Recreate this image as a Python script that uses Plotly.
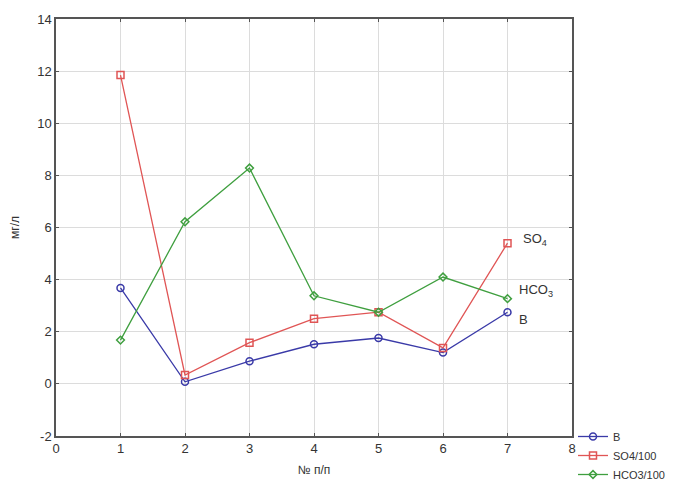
import plotly.graph_objects as go

x_vals = [1, 2, 3, 4, 5, 6, 7]
b_vals = [3.68, 0.08, 0.87, 1.52, 1.76, 1.2, 2.75]
so4_vals = [11.85, 0.34, 1.58, 2.5, 2.75, 1.38, 5.4]
hco3_vals = [1.68, 6.22, 8.28, 3.38, 2.75, 4.1, 3.27]
series_names = ["B", "SO4/100", "HCO3/100"]
end_labels = ["B", "SO<sub>4</sub>", "HCO<sub>3</sub>"]
y_tick_vals = [-2, 0, 2, 4, 6, 8, 10, 12, 14]
y_tick_text = ["-2", "0", "2", "4", "6", "8", "10", "12", "14"]

colors = ["#3a3aa8", "#e05555", "#3f9f3f"]
symbols = ["circle-open", "square-open", "diamond-open"]
sizes = [7, 7, 6]

fig = go.Figure()
for name, vals, c, s, sz in zip(series_names, [b_vals, so4_vals, hco3_vals], colors, symbols, sizes):
    fig.add_trace(go.Scatter(
        x=x_vals, y=vals, name=name, mode="lines+markers",
        line=dict(color=c, width=1.3),
        marker=dict(symbol=s, size=sz, color=c, line=dict(width=1.5, color=c)),
    ))

# end labels
fig.add_annotation(x=7, y=b_vals[-1], text=end_labels[0], xanchor="left", yanchor="middle",
                   showarrow=False, xshift=9, yshift=-7, font=dict(size=13, color="#333"))
fig.add_annotation(x=7, y=so4_vals[-1], text=end_labels[1], xanchor="left", yanchor="middle",
                   showarrow=False, xshift=13, yshift=4, font=dict(size=13, color="#333"))
fig.add_annotation(x=7, y=hco3_vals[-1], text=end_labels[2], xanchor="left", yanchor="middle",
                   showarrow=False, xshift=9, yshift=8, font=dict(size=13, color="#333"))

axis_common = dict(
    showgrid=True, gridcolor="#dcdcdc", gridwidth=1,
    showline=True, linecolor="#555", linewidth=1.5, mirror="ticks",
    ticks="inside", ticklen=3, tickcolor="#555",
    zeroline=False, tickfont=dict(size=13, color="#333"),
)
fig.update_xaxes(range=[0, 8], dtick=1, title=dict(text="№ п/п", font=dict(size=12, color="#333"), standoff=10),
                 automargin=False, **axis_common)
fig.update_yaxes(range=[-2, 14], tickvals=y_tick_vals, ticktext=y_tick_text,
                 title=dict(text="мг/л", font=dict(size=12, color="#333"), standoff=19),
                 automargin=False, **axis_common)

fig.update_layout(
    width=666, height=472,
    margin=dict(l=48, r=102, t=11, b=44, autoexpand=False),
    plot_bgcolor="white", paper_bgcolor="white",
    font=dict(family="Arial, Liberation Sans, sans-serif", color="#333"),
    legend=dict(xref="container", yref="container", x=565 / 666, y=1 - 414 / 472,
                xanchor="left", yanchor="top",
                font=dict(size=11, color="#333"), tracegroupgap=0,
                itemwidth=30, bgcolor="rgba(0,0,0,0)"),
    showlegend=True,
)

fig.write_html("out.html")
